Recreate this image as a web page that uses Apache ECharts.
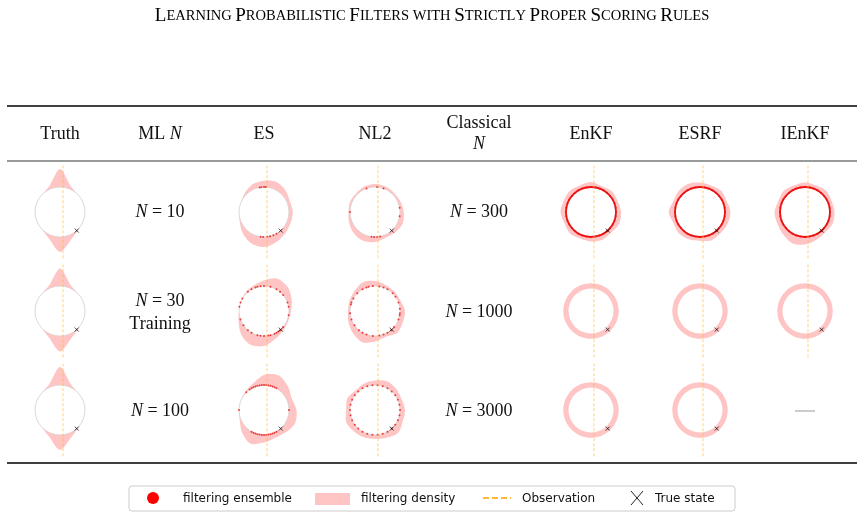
<!DOCTYPE html>
<html><head><meta charset="utf-8">
<script src="https://cdn.jsdelivr.net/npm/echarts@6/dist/echarts.min.js"></script>
<style>html,body{margin:0;padding:0;background:#fff}#c{width:864px;height:519px}</style>
</head><body><div id="c"></div>
<script>
// ---- data ----
const title = "Learning Probabilistic Filters with Strictly Proper Scoring Rules";
const headers = ["Truth", "ML N", "ES", "NL2", "Classical N", "EnKF", "ESRF", "IEnKF"];
const mlSizes = ["N = 10", "N = 30", "N = 100"];
const classicalSizes = ["N = 300", "N = 1000", "N = 3000"];
// outer density radius (circle radius = 1) at 16 angles, 0°, 22.5°, ... counter-clockwise
const densTruth0 = [1, 1, 1, 1.12, 1.72, 1.12, 1, 1, 1, 1, 1, 1.15, 1.6, 1.18, 1.02, 1];
const densTruth1 = [1, 1, 1, 1.12, 1.7, 1.12, 1, 1, 1, 1, 1, 1.15, 1.62, 1.18, 1.02, 1];
const densTruth2 = [1, 1, 1, 1.12, 1.72, 1.12, 1, 1, 1, 1, 1, 1.15, 1.6, 1.18, 1.02, 1];
const densES0 = [1.15, 1.12, 1.22, 1.3, 1.25, 1.2, 1.08, 1.0, 1.0, 1.05, 1.2, 1.35, 1.4, 1.3, 1.2, 1.15];
const densES1 = [1.08, 1.2, 1.35, 1.4, 1.22, 1.1, 1.05, 1.0, 1.0, 1.1, 1.3, 1.45, 1.4, 1.2, 1.1, 1.05];
const densES2 = [1.3, 1.2, 1.35, 1.5, 1.4, 1.15, 1.05, 1.0, 1.0, 1.05, 1.25, 1.45, 1.3, 1.2, 1.25, 1.35];
const densNL20 = [1.15, 1.1, 1.08, 1.1, 1.12, 1.1, 1.06, 1.08, 1.06, 1.12, 1.2, 1.25, 1.2, 1.12, 1.15, 1.2];
const densNL21 = [1.2, 1.1, 1.1, 1.12, 1.2, 1.25, 1.15, 1.1, 1.08, 1.15, 1.25, 1.35, 1.22, 1.12, 1.25, 1.2];
const densNL22 = [1.2, 1.15, 1.2, 1.25, 1.18, 1.15, 1.1, 1.2, 1.15, 1.25, 1.2, 1.18, 1.15, 1.2, 1.3, 1.2];
const densEnKF0 = [1.2, 1.15, 1.18, 1.12, 1.2, 1.15, 1.2, 1.18, 1.22, 1.15, 1.2, 1.15, 1.18, 1.2, 1.15, 1.22];
const densESRF0 = [1.22, 1.15, 1.2, 1.15, 1.18, 1.22, 1.2, 1.15, 1.25, 1.15, 1.2, 1.18, 1.15, 1.22, 1.18, 1.2];
const densIEnKF0 = [1.18, 1.15, 1.2, 1.15, 1.18, 1.15, 1.2, 1.15, 1.22, 1.2, 1.25, 1.35, 1.3, 1.2, 1.15, 1.2];
const densRing = [1.11, 1.11, 1.11, 1.11, 1.11, 1.11, 1.11, 1.11, 1.11, 1.11, 1.11, 1.11, 1.11, 1.11, 1.11, 1.11];
// ensemble member angles (degrees)
const ensES0 = [86, 90, 96, 100, 262, 268, 278, 284, 292, 300];
const ensES1 = [60, 75, 90, 98, 105, 255, 262, 270, 280, 295, 305, 320, 40, 50, 230, 240, 110, 120, 130, 285, 300, 310, 20, 200, 150, 160, 170, 215, 350, 10];
const ensES2 = [60, 65, 70, 75, 80, 85, 90, 95, 100, 105, 110, 115, 120, 125, 240, 245, 250, 255, 260, 265, 270, 275, 280, 285, 290, 295, 300, 180, 0, 135];
const ensNL20 = [70, 85, 110, 180, 262, 268, 275, 282, 350, 10];
const ensNL21 = [20, 45, 60, 80, 95, 105, 120, 135, 150, 165, 185, 200, 215, 240, 265, 280, 300, 320, 340, 355, 5, 35, 250, 290, 110, 160, 230, 310, 350, 70];
const ensNL22 = [0, 12, 24, 36, 48, 60, 72, 84, 96, 108, 120, 132, 144, 156, 168, 180, 192, 204, 216, 228, 240, 252, 264, 276, 288, 300, 312, 324, 336, 348];
const ensClassical0 = [0, 10, 20, 30, 40, 50, 60, 70, 80, 90, 100, 110, 120, 130, 140, 150, 160, 170, 180, 190, 200, 210, 220, 230, 240, 250, 260, 270, 280, 290, 300, 310, 320, 330, 340, 350];
const trueStateAngle = -48;
const obsOffset = 0.12;

// ---- layout ----
const colX = [60, 160, 264, 375, 479, 591, 700, 805];
const rowY = [212, 311, 410];
const cells = [
  [0, 0, densTruth0, [], false], [0, 1, densTruth1, [], false], [0, 2, densTruth2, [], false],
  [2, 0, densES0, ensES0, false], [2, 1, densES1, ensES1, false], [2, 2, densES2, ensES2, false],
  [3, 0, densNL20, ensNL20, false], [3, 1, densNL21, ensNL21, false], [3, 2, densNL22, ensNL22, false],
  [5, 0, densEnKF0, ensClassical0, true], [6, 0, densESRF0, ensClassical0, true], [7, 0, densIEnKF0, ensClassical0, true],
  [5, 1, densRing, [], false, 0.9], [6, 1, densRing, [], false, 0.9], [7, 1, densRing, [], false, 0.9],
  [5, 2, densRing, [], false, 0.9], [6, 2, densRing, [], false, 0.9]
];
const PINK = '#ffc4c4', RED = '#ee1111', ORANGE = '#ffb733';
const grid = [], xAxis = [], yAxis = [], series = [];
cells.forEach((c, i) => {
  const [col, row, dens, ens, ring, inner] = c;
  const cx = colX[col], cy = rowY[row];
  grid.push({left: cx - 50, top: cy - 50, width: 100, height: 100});
  xAxis.push({gridIndex: i, min: -2, max: 2, show: false});
  yAxis.push({gridIndex: i, min: -2, max: 2, show: false});
  series.push({
    type: 'custom', xAxisIndex: i, yAxisIndex: i, data: [[0, 0]], silent: true,
    renderItem: (params, api) => {
      const n = dens.length;
      const pts = dens.map((r, k) => { const a = k * 2 * Math.PI / n; return api.coord([r * Math.cos(a), r * Math.sin(a)]); });
      const c0 = api.coord([0, 0]);
      const unit = api.size([1, 1])[0];
      const ch = [
        {type: 'polygon', shape: {points: pts, smooth: 0.3}, style: {fill: PINK}},
        {type: 'circle', shape: {cx: c0[0], cy: c0[1], r: unit * (inner || 1)}, style: {fill: '#fff', stroke: inner ? null : '#d9d0d0', lineWidth: 0.8}}
      ];
      if (ring) ch.push({type: 'circle', shape: {cx: c0[0], cy: c0[1], r: unit}, style: {fill: null, stroke: RED, lineWidth: 1.8}});
      return {type: 'group', children: ch};
    }
  });
  series.push({
    type: 'line', xAxisIndex: i, yAxisIndex: i, symbol: 'none', silent: true,
    data: [[obsOffset, -1.85], [obsOffset, 1.85]],
    lineStyle: {color: ORANGE, width: 0.8, type: [3, 2], opacity: 0.8}
  });
  if (ens.length) series.push({
    type: 'scatter', xAxisIndex: i, yAxisIndex: i, symbolSize: 2, silent: true,
    data: ens.map(a => [Math.cos(a * Math.PI / 180), Math.sin(a * Math.PI / 180)]),
    itemStyle: {color: RED}
  });
  series.push({
    type: 'scatter', xAxisIndex: i, yAxisIndex: i, symbol: 'path://M0,0L10,10M10,0L0,10', symbolSize: 4, silent: true,
    data: [[Math.cos(trueStateAngle * Math.PI / 180), Math.sin(trueStateAngle * Math.PI / 180)]],
    itemStyle: {color: 'none', borderColor: '#000', borderWidth: 0.9}
  });
});

// small caps title
const rich = {b: {fontSize: 19, fontFamily: 'Liberation Serif', color: '#111'}, s: {fontSize: 14.5, fontFamily: 'Liberation Serif', color: '#111'}};
let titleText = '';
title.split('').forEach(ch => {
  if (ch === ' ') titleText += '{s| }';
  else if (ch === ch.toUpperCase()) titleText += '{b|' + ch + '}';
  else titleText += '{s|' + ch.toUpperCase() + '}';
});

const serif = 'Liberation Serif';
const T = (x, y, text, opt) => Object.assign({type: 'text', x, y, style: Object.assign({text, fontFamily: serif, fontSize: 18, fill: '#111', align: 'center', verticalAlign: 'middle'}, opt || {})});
const mathRich = {i: {fontFamily: serif, fontStyle: 'italic', fontSize: 18, fill: '#111'}, r: {fontFamily: serif, fontSize: 18, fill: '#111'}};
const mathT = (x, y, s) => {
  const parts = s.split(' ');
  return {type: 'text', x, y, style: {text: '{i|' + parts[0] + '}{r| ' + parts.slice(1).join(' ') + '}', rich: mathRich, align: 'center', verticalAlign: 'middle', fontSize: 18}};
};
const graphic = [
  {type: 'text', x: 432, y: 16, style: {text: titleText, rich, align: 'center', verticalAlign: 'middle'}},
  {type: 'line', shape: {x1: 7, y1: 106, x2: 857, y2: 106}, style: {stroke: '#000', lineWidth: 1.5}},
  {type: 'line', shape: {x1: 7, y1: 161, x2: 857, y2: 161}, style: {stroke: '#000', lineWidth: 0.8}},
  {type: 'line', shape: {x1: 7, y1: 463, x2: 857, y2: 463}, style: {stroke: '#000', lineWidth: 1.5}},
  T(colX[0], 134, headers[0]),
  {type: 'text', x: colX[1], y: 134, style: {text: '{r|ML }{i|N}', rich: mathRich, align: 'center', verticalAlign: 'middle'}},
  T(colX[2], 134, headers[2]), T(colX[3], 134, headers[3]),
  T(colX[4], 123, headers[4].split(' ')[0]),
  {type: 'text', x: colX[4], y: 144, style: {text: '{i|N}', rich: mathRich, align: 'center', verticalAlign: 'middle'}},
  T(colX[5], 134, headers[5]), T(colX[6], 134, headers[6]), T(colX[7], 134, headers[7]),
  mathT(colX[1], 212, mlSizes[0]), mathT(colX[1], 301, mlSizes[1]), T(colX[1], 324, 'Training'), mathT(colX[1], 411, mlSizes[2]),
  mathT(colX[4], 212, classicalSizes[0]), mathT(colX[4], 312, classicalSizes[1]), mathT(colX[4], 411, classicalSizes[2]),
  {type: 'line', shape: {x1: 795, y1: 411, x2: 815, y2: 411}, style: {stroke: '#999', lineWidth: 1}},
  // legend
  {type: 'rect', shape: {x: 129, y: 486, width: 606, height: 25, r: 3}, style: {fill: '#fff', stroke: '#ccc', lineWidth: 1}},
  {type: 'circle', shape: {cx: 153, cy: 498, r: 6}, style: {fill: '#ff0000'}},
  {type: 'text', x: 183, y: 499, style: {text: 'filtering ensemble', fontFamily: 'DejaVu Sans', fontSize: 12, fill: '#111', verticalAlign: 'middle'}},
  {type: 'rect', shape: {x: 315, y: 493, width: 35, height: 12}, style: {fill: PINK}},
  {type: 'text', x: 361, y: 499, style: {text: 'filtering density', fontFamily: 'DejaVu Sans', fontSize: 12, fill: '#111', verticalAlign: 'middle'}},
  {type: 'line', shape: {x1: 483, y1: 498, x2: 511, y2: 498}, style: {stroke: ORANGE, lineWidth: 2, lineDash: [6, 3]}},
  {type: 'text', x: 522, y: 499, style: {text: 'Observation', fontFamily: 'DejaVu Sans', fontSize: 12, fill: '#111', verticalAlign: 'middle'}},
  {type: 'line', shape: {x1: 631, y1: 491, x2: 643, y2: 505}, style: {stroke: '#222', lineWidth: 1}},
  {type: 'line', shape: {x1: 643, y1: 491, x2: 631, y2: 505}, style: {stroke: '#222', lineWidth: 1}},
  {type: 'text', x: 655, y: 499, style: {text: 'True state', fontFamily: 'DejaVu Sans', fontSize: 12, fill: '#111', verticalAlign: 'middle'}}
];

const chart = echarts.init(document.getElementById('c'));
chart.setOption({animation: false, backgroundColor: '#fff', grid, xAxis, yAxis, series, graphic});
</script></body></html>
